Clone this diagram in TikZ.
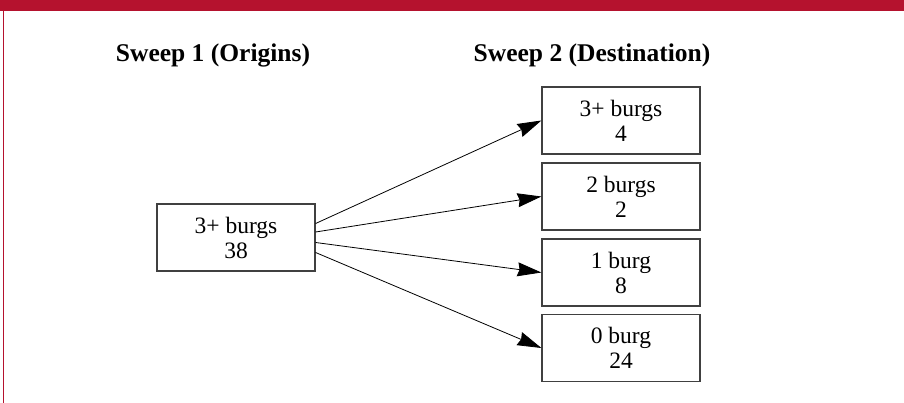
\documentclass[tikz,border=0pt]{standalone}
\usepackage{fontspec}
\setmainfont{Liberation Serif}
\usetikzlibrary{arrows.meta}
\definecolor{banner}{RGB}{181,18,46}
\definecolor{boxline}{RGB}{64,64,64}
\tikzset{
  countbox/.style={draw=boxline, line width=1.2pt, minimum width=158pt, minimum height=67pt,
    inner sep=0pt, align=center, font=\fontsize{23.5}{25}\selectfont},
  header/.style={anchor=base, font=\fontsize{25.5}{28}\selectfont\bfseries},
  flow/.style={line width=0.8pt, -{Stealth[length=24pt,width=14pt,inset=2pt]}}
}
\begin{document}
\begin{tikzpicture}[x=1pt,y=-1pt]
\useasboundingbox (0,0) rectangle (904,403);
\fill[banner] (0,0) rectangle (904,11);
\fill[banner] (2.8,11) rectangle (4.2,403);

\node[header] (h1) at (213,62) {Sweep 1 (Origins)};
\node[header] (h2) at (592,62) {Sweep 2 (Destination)};

\node[countbox] (o) at (236,237.5) {3+ burgs\\38};
\node[countbox] (d1) at (621,120.5) {3+ burgs\\4};
\node[countbox] (d2) at (621,196.5) {2 burgs\\2};
\node[countbox] (d3) at (621,272.5) {1 burg\\8};
\node[countbox] (d4) at (621,348) {0 burg\\24};

\draw[flow] ([yshift=14pt]o.east) -- (d1.west);
\draw[flow] ([yshift=5.5pt]o.east) -- (d2.west);
\draw[flow] ([yshift=-5pt]o.east) -- (d3.west);
\draw[flow] ([yshift=-15pt]o.east) -- (d4.west);
\end{tikzpicture}
\end{document}
